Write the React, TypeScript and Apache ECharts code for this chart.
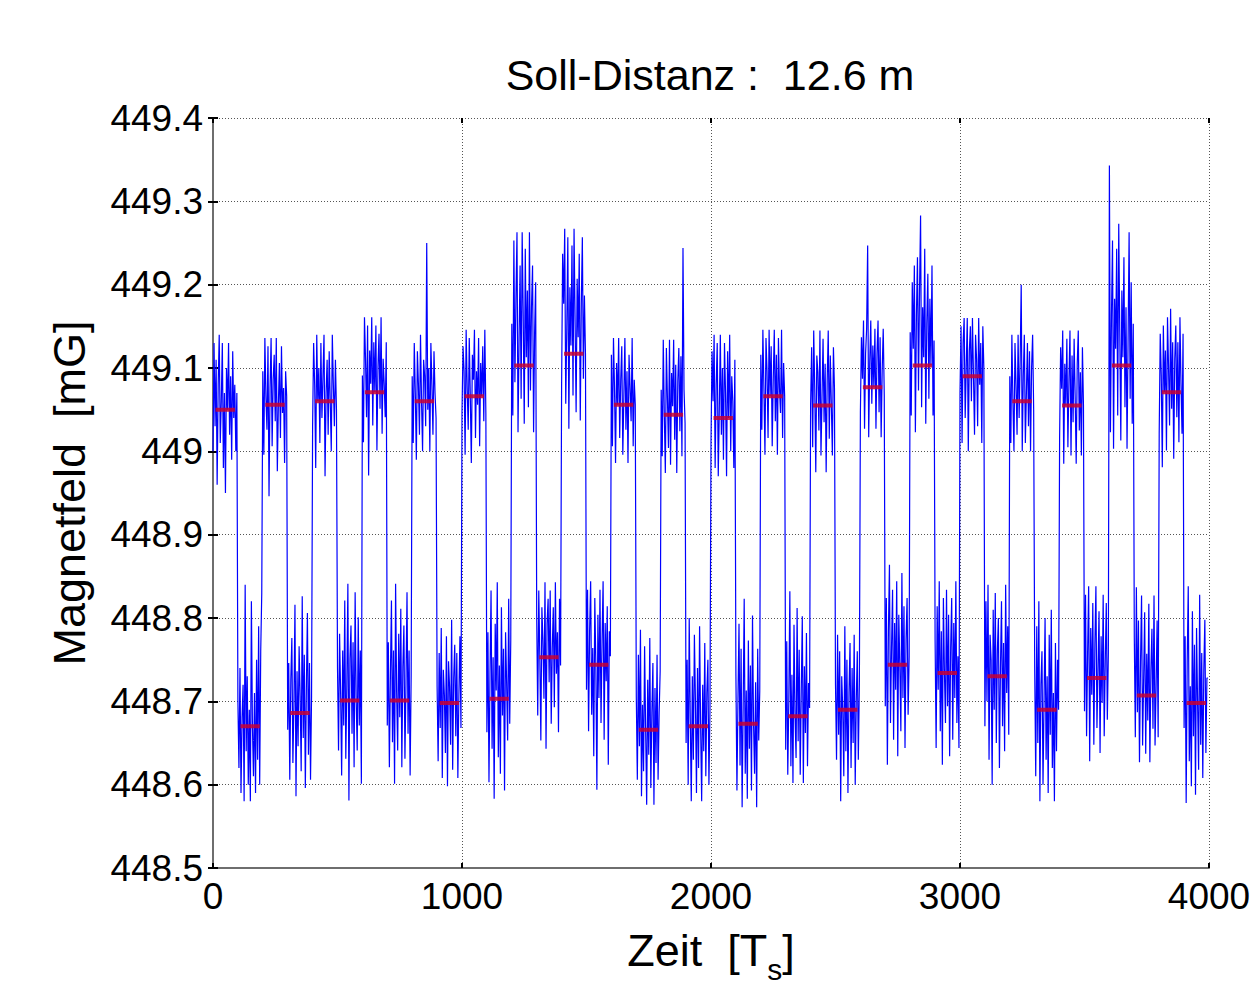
import React, { useEffect, useRef } from "react";
import * as echarts from "echarts";

// ---- data ----
const xTicks = [0, 1000, 2000, 3000, 4000];
const yTicks = [448.5, 448.6, 448.7, 448.8, 448.9, 449, 449.1, 449.2, 449.3, 449.4];
const SEG_LEN = 100; // samples per plateau

// plateau means (red markers)
const highMeans = [449.050, 449.056, 449.060, 449.071, 449.060, 449.066, 449.103, 449.117, 449.056, 449.044,
  449.040, 449.066, 449.055, 449.077, 449.103, 449.090, 449.060, 449.055, 449.103, 449.071];
const lowMeans = [448.670, 448.686, 448.701, 448.701, 448.698, 448.703, 448.753, 448.744, 448.666, 448.670,
  448.673, 448.682, 448.690, 448.744, 448.734, 448.730, 448.690, 448.728, 448.707, 448.698];

// deviations from the plateau mean, in hundredths of mG (read/estimated per plateau)
const highDev = [
  [-5, 8, -2, 6, -9, 3, 9, -4, 1, 8, -7, 2, -10, 5, 0, 8, -3, 4, -6, 7, -1, 3, -5, 2],
  [4, -6, 8, 1, -3, 7, -11, 2, 8, -5, 3, 6, -2, 8, -8, 0, 5, -4, 7, -1, 2, -7, 4, 1],
  [-3, 7, 2, -8, 8, 0, 4, -5, 7, -2, 3, 8, -9, 1, 5, -4, 6, 0, -6, 8, 2, -3, 5, -1],
  [2, -6, 9, 4, -3, 8, -10, 5, 1, 9, -4, 6, 0, 8, -7, 3, 7, -2, 9, -5, 4, 1, -3, 6],
  [3, -5, 7, 1, -7, 6, 2, -4, 8, 0, -6, 5, 3, -3, 19, -1, 4, -6, 7, 2, -4, 6, 1, -2],
  [-2, 6, 3, -7, 8, 1, -4, 7, 0, -8, 5, 2, 8, -5, 3, -1, 7, -6, 4, 0, 6, -3, 8, -2],
  [5, -6, 15, -2, 8, 16, -8, 3, 12, -4, 16, 6, -7, 14, 1, 9, -5, 16, -3, 7, 12, -8, 4, 10],
  [-4, 12, 6, 15, -6, 3, 14, -9, 8, 1, 13, -5, 15, 4, -7, 9, 2, 12, -8, 6, 14, -3, 7, 0],
  [6, -5, 8, 2, -7, 5, 0, 8, -4, 3, 7, -6, 1, 8, -3, 4, -7, 6, 2, -2, 8, -5, 3, 0],
  [3, -5, 9, 0, -7, 8, 2, -4, 9, -6, 5, 1, 9, -3, 6, -7, 4, 8, -2, 7, -5, 20, 3, -1],
  [-3, 8, 2, 10, -6, 4, 9, -7, 1, 10, -2, 6, -5, 9, 3, -7, 8, 0, 10, -4, 5, 2, -6, 7],
  [5, -4, 8, 1, -7, 7, 3, -5, 8, 0, 6, -6, 2, 8, -3, 5, -7, 7, 1, -2, 8, -5, 4, 0],
  [0, 7, -5, 9, 2, -8, 6, 4, -3, 9, -6, 1, 8, -2, 5, -8, 3, 9, -4, 6, 0, -6, 7, 2],
  [-3, 6, 1, 8, -5, 4, 7, 17, -6, 3, 8, -2, 5, 0, 7, -5, 4, 8, -3, 6, -6, 2, 7, -1],
  [4, -6, 10, 2, 12, -8, 6, 13, -3, 9, 18, -5, 7, 1, 14, -7, 5, 11, -4, 8, 0, 12, -6, 3],
  [-2, 6, -8, 4, 7, -5, 1, 7, -9, 3, 6, -3, 7, 0, -7, 5, 2, -6, 7, -1, 4, -8, 6, 1],
  [3, -5, 8, 0, -6, 7, 2, -4, 8, -2, 5, 14, -6, 3, 8, -5, 1, 7, -3, 6, -6, 4, 8, -1],
  [-4, 7, 2, 9, -7, 5, 0, 8, -5, 3, 9, -6, 6, -2, 8, 1, -7, 5, 9, -3, 4, -6, 7, 0],
  [24, -8, 6, 15, -10, 8, 2, 14, -6, 17, 4, -9, 9, 1, 13, -5, 7, -10, 3, 16, -4, 10, -7, 5],
  [-5, 7, 2, -9, 8, 0, 5, -7, 9, 3, -4, 10, -2, 6, -8, 4, 8, -3, 6, -6, 9, 1, -5, 7],
];
const lowDev = [
  [3, -5, 7, -8, 1, 5, -9, 17, -3, 6, -7, 2, -9, 15, 0, -6, 4, -8, 8, -4, 12, -7, 9, 16],
  [-2, 6, -8, 4, 9, -6, 1, 13, -10, 5, -4, 8, 2, -7, 14, -3, 7, -9, 3, 12, -5, 6, -8, 2],
  [4, -6, 8, 1, -9, 6, -3, 12, -7, 2, 14, -12, 5, 9, -4, 7, -8, 13, 0, -6, 10, -3, 6, -10],
  [-3, 7, -8, 3, 12, -5, 6, -10, 14, 1, -6, 8, -2, 11, -8, 4, 9, -7, 2, 13, -4, 6, -9, 3],
  [2, -7, 6, -3, 9, -9, 4, 1, -6, 8, -10, 5, 2, -5, 10, -8, 3, 7, -4, 6, -9, 1, 8, -3],
  [-4, 8, -10, 3, 13, -6, 5, -12, 9, 1, 14, -7, 4, -9, 11, -2, 6, -11, 8, 2, -5, 12, -3, 7],
  [5, -7, 8, 0, -10, 6, 2, -5, 9, -11, 4, 7, -3, 8, -8, 1, 6, -6, 9, -2, 3, -9, 7, -1],
  [-3, 9, -8, 4, 10, -6, 2, -11, 8, 0, -15, 6, -4, 9, -7, 3, 10, -9, 5, -2, 7, -12, 4, 1],
  [4, -6, 9, -2, 12, -8, 3, -5, 10, 0, -9, 6, -3, 11, -7, 2, 8, -9, 5, -4, 9, -6, 2, 7],
  [-2, 8, -7, 13, 1, -9, 6, -4, 11, 3, -8, 7, -5, 12, 0, -9, 5, -3, 10, -6, 4, 8, -7, 2],
  [6, -8, 3, 12, -5, 9, -10, 2, 15, -6, 4, -9, 10, -3, 7, -8, 13, 0, -6, 5, -10, 9, -2, 4],
  [-4, 9, -7, 2, 15, -6, 5, -8, 11, 0, -5, 13, -3, 8, -7, 3, 12, -8, 6, -2, 10, -6, 4, 1],
  [3, -6, 9, -3, 7, -11, 4, 0, -8, 10, -5, 6, -10, 2, 8, -7, 5, -4, 9, -9, 1, 7, -6, 3],
  [-5, 8, -12, 4, 12, -7, 2, 9, -9, 5, -3, 10, -11, 6, 0, -8, 11, -4, 7, -10, 3, 8, -6, 1],
  [4, -9, 8, -2, 11, -7, 5, -11, 9, 0, -6, 10, -4, 7, -10, 3, 9, -8, 6, -3, 11, -6, 2, -9],
  [-6, 9, -3, 11, -10, 5, 2, -13, 8, -4, 10, -8, 3, 7, -11, 1, 9, -6, 4, -9, 11, -2, 6, -7],
  [5, -8, 10, -4, 13, -11, 3, 7, -9, 1, 11, -6, 4, -10, 9, -3, 12, -7, 2, -11, 8, -5, 6, 0],
  [-4, 10, -7, 3, 11, -10, 6, -2, 9, -8, 4, 11, -6, 1, 8, -9, 5, -3, 10, -7, 2, 9, -5, 3],
  [7, -5, 13, -2, 9, -8, 4, 12, -6, 2, 10, -7, 5, -3, 11, -8, 3, 8, -4, 12, -6, 1, 9, -5],
  [-3, 8, -12, 5, 14, -7, 2, -10, 11, -4, 7, -11, 9, 0, -8, 13, -5, 6, -9, 4, 10, -6, 3, 3],
];
const MARK_FROM = 10; // marker span inside each plateau (samples)
const MARK_TO = 88;

const FONT = "'Liberation Sans', Arial, Helvetica, sans-serif";

function buildSignal() {
  const pts: [number, number][] = [];
  const marks: [number, number | string][] = [];
  for (let i = 0; i < highMeans.length; i++) {
    const plateaus: [number, number[], number][] = [
      [highMeans[i], highDev[i], 2 * i * SEG_LEN],
      [lowMeans[i], lowDev[i], (2 * i + 1) * SEG_LEN],
    ];
    for (const [m, dev, start] of plateaus) {
      const step = SEG_LEN / dev.length;
      dev.forEach((d, j) => pts.push([start + j * step, +(m + d / 100).toFixed(4)]));
      marks.push([start + MARK_FROM, m], [start + MARK_TO, m], [start + MARK_TO, "-"]);
    }
  }
  return { pts, marks };
}

export default function App() {
  const ref = useRef<HTMLDivElement>(null);
  useEffect(() => {
    if (!ref.current) return;
    const chart = echarts.init(ref.current, undefined, { renderer: "svg" });
    const { pts, marks } = buildSignal();
    const fmtY = (v: number) => String(parseFloat(v.toFixed(1)));
    const fmtX = (v: number) => String(Math.round(v));
    chart.setOption({
      animation: false,
      backgroundColor: "#ffffff",
      title: {
        text: "Soll-Distanz :  12.6 m",
        left: 705,
        top: 48,
        textAlign: "center",
        textStyle: { fontFamily: FONT, fontSize: 43, fontWeight: "normal", color: "#000" },
      },
      grid: { left: 213, right: 45, top: 118, bottom: 105, containLabel: false },
      xAxis: [
        {
          type: "value",
          min: xTicks[0],
          max: xTicks[xTicks.length - 1],
          interval: 1000,
          position: "bottom",
          axisLine: { show: true, lineStyle: { color: "#6e6e6e", width: 2 } },
          axisTick: { show: true, inside: true, length: 5, lineStyle: { color: "#000", width: 2 } },
          axisLabel: { fontFamily: FONT, fontSize: 37, color: "#000", margin: 10, formatter: fmtX },
          splitLine: { show: true, lineStyle: { color: "#555", width: 1, type: [1, 2] } },
          name: "{a|Zeit  [T}{s|s}{a|]}",
          nameLocation: "middle",
          nameGap: 60,
          nameTextStyle: {
            rich: {
              a: { fontFamily: FONT, fontSize: 45, color: "#000", lineHeight: 45, verticalAlign: "top" },
              s: { fontFamily: FONT, fontSize: 30, color: "#000", lineHeight: 30, verticalAlign: "top", padding: [26, 0, 0, 0] },
            },
          },
        },
        {
          type: "value",
          min: xTicks[0],
          max: xTicks[xTicks.length - 1],
          interval: 1000,
          position: "top",
          axisLine: { show: false },
          axisTick: { show: true, inside: true, length: 5, lineStyle: { color: "#000", width: 2 } },
          axisLabel: { show: false },
          splitLine: { show: false },
        },
      ],
      yAxis: [
        {
          type: "value",
          min: yTicks[0],
          max: yTicks[yTicks.length - 1],
          interval: 0.1,
          position: "left",
          axisLine: { show: true, lineStyle: { color: "#6e6e6e", width: 2 } },
          axisTick: { show: true, inside: true, length: 5, lineStyle: { color: "#000", width: 2 } },
          axisLabel: { fontFamily: FONT, fontSize: 37, color: "#000", margin: 10, formatter: fmtY },
          splitLine: { show: true, lineStyle: { color: "#555", width: 1, type: [1, 2] } },
          name: "Magnetfeld  [mG]",
          nameLocation: "middle",
          nameGap: 121,
          nameTextStyle: { fontFamily: FONT, fontSize: 45, color: "#000" },
        },
        {
          type: "value",
          min: yTicks[0],
          max: yTicks[yTicks.length - 1],
          interval: 0.1,
          position: "right",
          axisLine: { show: false },
          axisTick: { show: true, inside: true, length: 5, lineStyle: { color: "#000", width: 2 } },
          axisLabel: { show: false },
          splitLine: { show: false },
        },
      ],
      series: [
        {
          type: "line",
          data: pts,
          xAxisIndex: 0,
          yAxisIndex: 0,
          showSymbol: false,
          symbol: "none",
          lineStyle: { color: "#0000ff", width: 1.2 },
          silent: true,
          z: 2,
        },
        {
          type: "line",
          data: marks,
          xAxisIndex: 0,
          yAxisIndex: 0,
          showSymbol: false,
          symbol: "none",
          connectNulls: false,
          lineStyle: { color: "rgba(200,0,50,0.85)", width: 4 },
          silent: true,
          z: 3,
        },
      ],
    });
    return () => chart.dispose();
  }, []);
  return (
    <div
      ref={ref}
      style={{ position: "fixed", left: 0, top: 0, width: 1254, height: 989, background: "#fff" }}
    />
  );
}
